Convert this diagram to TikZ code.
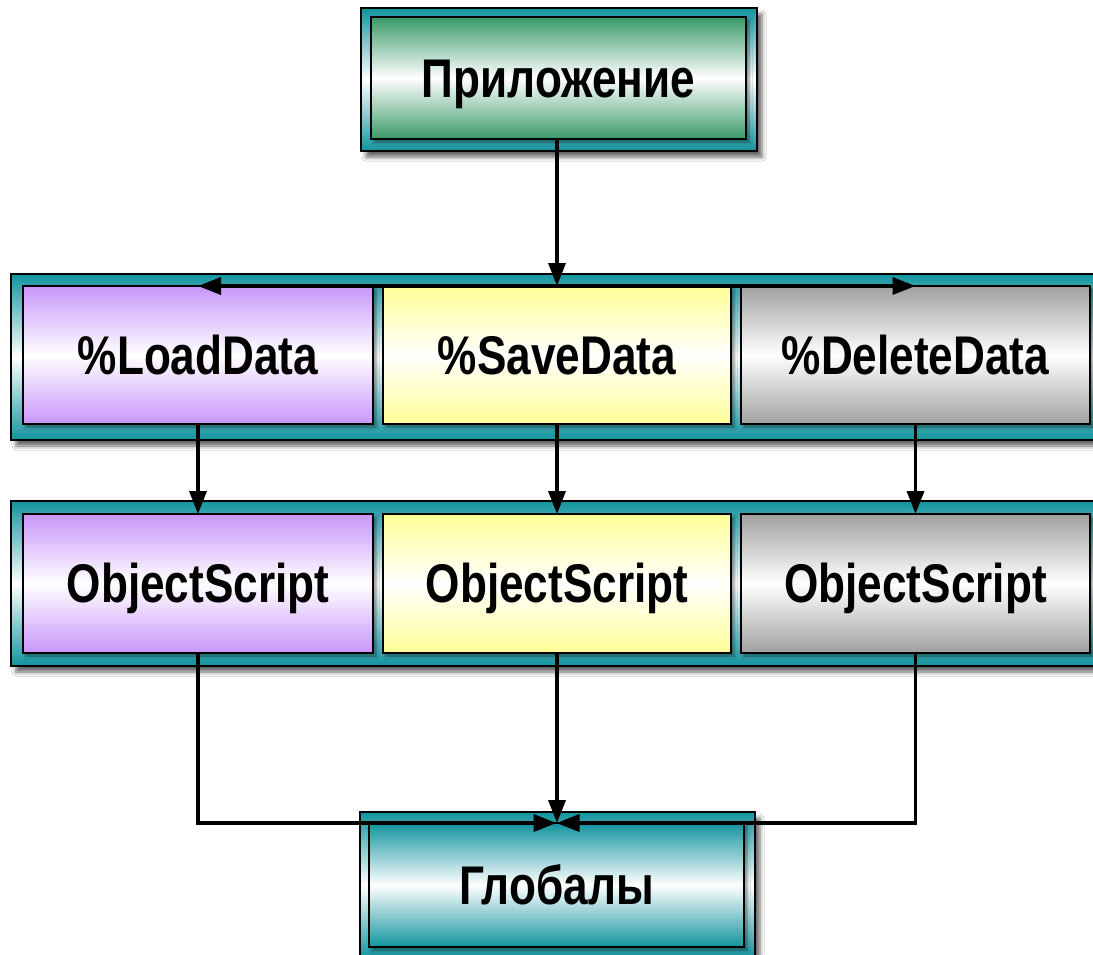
\documentclass[tikz,border=0pt]{standalone}
\usepackage{fontspec}
\setmainfont{Liberation Sans}[FakeStretch=0.81]
\usetikzlibrary{arrows.meta,shadows.blur}
\definecolor{tealc}{RGB}{18,148,158}
\definecolor{grnc}{RGB}{58,154,104}
\definecolor{purpc}{RGB}{200,150,250}
\definecolor{yelc}{RGB}{255,255,150}
\definecolor{gryc}{RGB}{160,160,160}
\tikzset{
  frm/.style={draw=black, line width=2.5pt, top color=tealc, bottom color=tealc, middle color=white,
    inner sep=0pt, outer sep=0pt,
    blur shadow={shadow xshift=5pt, shadow yshift=-6pt, shadow blur radius=4pt, shadow opacity=60}},
  bx/.style={draw=black, line width=2.5pt, top color=#1, bottom color=#1, middle color=white,
    inner sep=0pt, outer sep=0pt, text height=38.7pt, text depth=0pt,
    font=\fontsize{54.5}{60}\selectfont\bfseries,
    blur shadow={shadow xshift=3pt, shadow yshift=-3pt, shadow blur radius=3pt, shadow opacity=45}},
  conn/.style={draw=black, line width=3.6pt},
  tip/.style={-{Triangle[length=23pt,width=17pt]}}
}
\begin{document}
\begin{tikzpicture}[x=1pt, y=-1pt]
\clip (0,0) rectangle (1093,954);
\fill[white] (0,0) rectangle (1093,954);
% frames
\node[frm, minimum width=396pt, minimum height=143pt] (appf) at (559,79.5) {};
\node[frm, minimum width=1089pt, minimum height=166pt] (row1f) at (555.5,357) {};
\node[frm, minimum width=1089pt, minimum height=165pt] (row2f) at (555.5,583.5) {};
\node[frm, minimum width=395pt, minimum height=146pt] (globf) at (557.5,885) {};
% boxes
\node[bx=grnc, minimum width=375pt, minimum height=122pt] (app) at (558.5,78) {Приложение};
\node[bx=purpc, minimum width=350pt, minimum height=138pt] (load) at (198,355) {\%LoadData};
\node[bx=yelc, minimum width=348pt, minimum height=138pt] (save) at (557,355) {\%SaveData};
\node[bx=gryc, minimum width=349pt, minimum height=138pt] (del) at (915.5,355) {\%DeleteData};
\node[bx=purpc, minimum width=350pt, minimum height=139pt] (os1) at (198,583.5) {ObjectScript};
\node[bx=yelc, minimum width=348pt, minimum height=139pt] (os2) at (557,583.5) {ObjectScript};
\node[bx=gryc, minimum width=349pt, minimum height=139pt] (os3) at (915.5,583.5) {ObjectScript};
\node[bx=tealc, minimum width=375pt, minimum height=124pt] (glob) at (556.5,885) {Глобалы};
% connectors
\draw[conn, tip] (app.south -| save.north) -- (save.north);
\draw[conn, tip] (save.north) -- (load.north);
\draw[conn, tip] (save.north) -- (del.north);
\draw[conn, tip] (load.south) -- (os1.north);
\draw[conn, tip] (save.south) -- (os2.north);
\draw[conn, tip] (del.south) -- (os3.north);
\draw[conn, tip] (os1.south) |- (glob.north);
\draw[conn, tip] (os2.south) -- (os2.south |- glob.north);
\draw[conn, tip] (os3.south) |- (glob.north);
\end{tikzpicture}
\end{document}
